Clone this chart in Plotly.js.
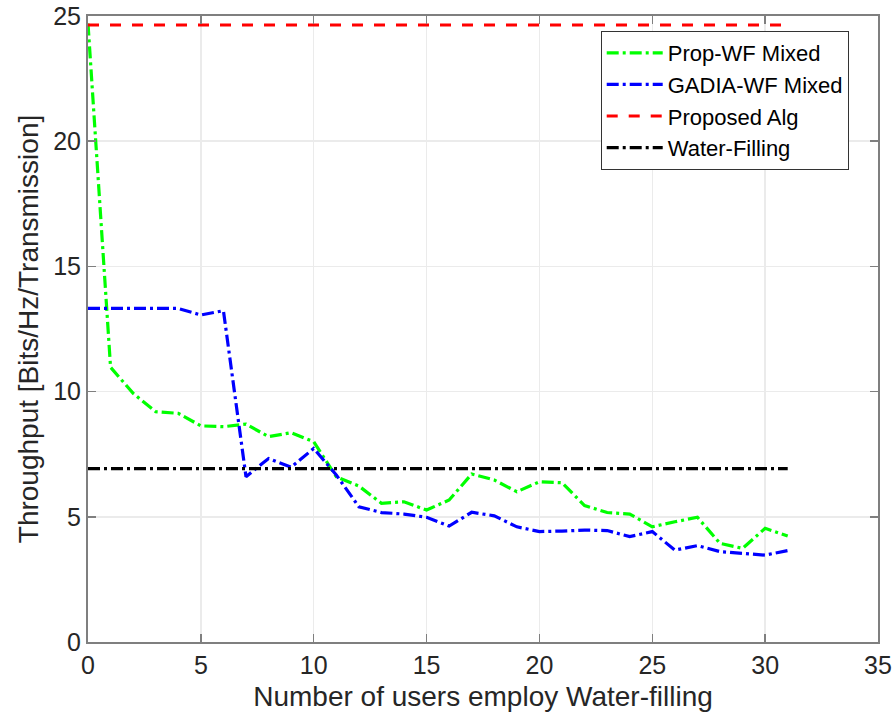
<!DOCTYPE html>
<html>
<head>
<meta charset="utf-8">
<script src="https://cdn.plot.ly/plotly-3.0.1.min.js"></script>
<style>html,body{margin:0;padding:0;background:#fff;}#chart{width:896px;height:728px;}</style>
</head>
<body>
<div id="chart"></div>
<script>
const users = [0,1,2,3,4,5,6,7,8,9,10,11,12,13,14,15,16,17,18,19,20,21,22,23,24,25,26,27,28,29,30,31];
const propWF = [24.7,10.97,9.93,9.2,9.13,8.63,8.6,8.7,8.2,8.36,8.0,6.6,6.23,5.54,5.6,5.27,5.67,6.71,6.47,6.0,6.4,6.36,5.45,5.17,5.11,4.6,4.8,4.98,3.94,3.74,4.54,4.23];
const gadiaWF = [13.32,13.32,13.32,13.32,13.32,13.06,13.23,6.6,7.33,6.98,7.73,6.67,5.4,5.17,5.11,4.98,4.63,5.18,5.04,4.6,4.41,4.43,4.47,4.45,4.21,4.41,3.67,3.85,3.61,3.54,3.47,3.65];
const proposedAlg = [24.64,24.64,24.64,24.64,24.64,24.64,24.64,24.64,24.64,24.64,24.64,24.64,24.64,24.64,24.64,24.64,24.64,24.64,24.64,24.64,24.64,24.64,24.64,24.64,24.64,24.64,24.64,24.64,24.64,24.64,24.64,24.64];
const waterFilling = [6.92,6.92,6.92,6.92,6.92,6.92,6.92,6.92,6.92,6.92,6.92,6.92,6.92,6.92,6.92,6.92,6.92,6.92,6.92,6.92,6.92,6.92,6.92,6.92,6.92,6.92,6.92,6.92,6.92,6.92,6.92,6.92];
const xTicks = [0,5,10,15,20,25,30,35];
const yTicks = [0,5,10,15,20,25];

const dashDot = "12px,4px,3px,4px";
const traces = [
  {x: users, y: propWF, name: "Prop-WF Mixed", mode: "lines", line: {color: "#00ff00", width: 3.2, dash: dashDot}},
  {x: users, y: gadiaWF, name: "GADIA-WF Mixed", mode: "lines", line: {color: "#0000ff", width: 3.2, dash: dashDot}},
  {x: users, y: proposedAlg, name: "Proposed Alg", mode: "lines", line: {color: "#ff0000", width: 3.2, dash: "11px,11px"}},
  {x: users, y: waterFilling, name: "Water-Filling", mode: "lines", line: {color: "#000000", width: 3.2, dash: dashDot}}
];

const fontFam = "Liberation Sans, Arial, sans-serif";
const axisCommon = {
  showline: true, mirror: "ticks", linecolor: "#7f7f7f", linewidth: 2,
  ticks: "inside", ticklen: 8, tickcolor: "#7f7f7f", tickwidth: 1.5,
  showgrid: true, gridcolor: "#ebebeb", gridwidth: 1.5,
  zeroline: false,
  tickfont: {family: fontFam, size: 25, color: "#262626"}
};

const layout = {
  width: 896, height: 728,
  margin: {l: 88, r: 18, t: 16, b: 86},
  paper_bgcolor: "#ffffff", plot_bgcolor: "#ffffff",
  showlegend: true,
  xaxis: Object.assign({}, axisCommon, {
    range: [0, 35], tickvals: xTicks, ticktext: xTicks.map(String),
    title: {text: "Number of users employ Water-filling", font: {family: fontFam, size: 28, color: "#262626"}, standoff: 8}
  }),
  yaxis: Object.assign({}, axisCommon, {
    range: [0, 25], tickvals: yTicks, ticktext: yTicks.map(String),
    title: {text: "Throughput [Bits/Hz/Transmission]", font: {family: fontFam, size: 28, color: "#262626"}, standoff: 6}
  }),
  legend: {
    x: 0.649, y: 0.976, xanchor: "left", yanchor: "top",
    bgcolor: "#ffffff", bordercolor: "#333333", borderwidth: 1,
    font: {family: fontFam, size: 22, color: "#000000"},
    itemwidth: 56, tracegroupgap: 0
  }
};

Plotly.newPlot("chart", traces, layout, {displayModeBar: false, staticPlot: true});
</script>
</body>
</html>
